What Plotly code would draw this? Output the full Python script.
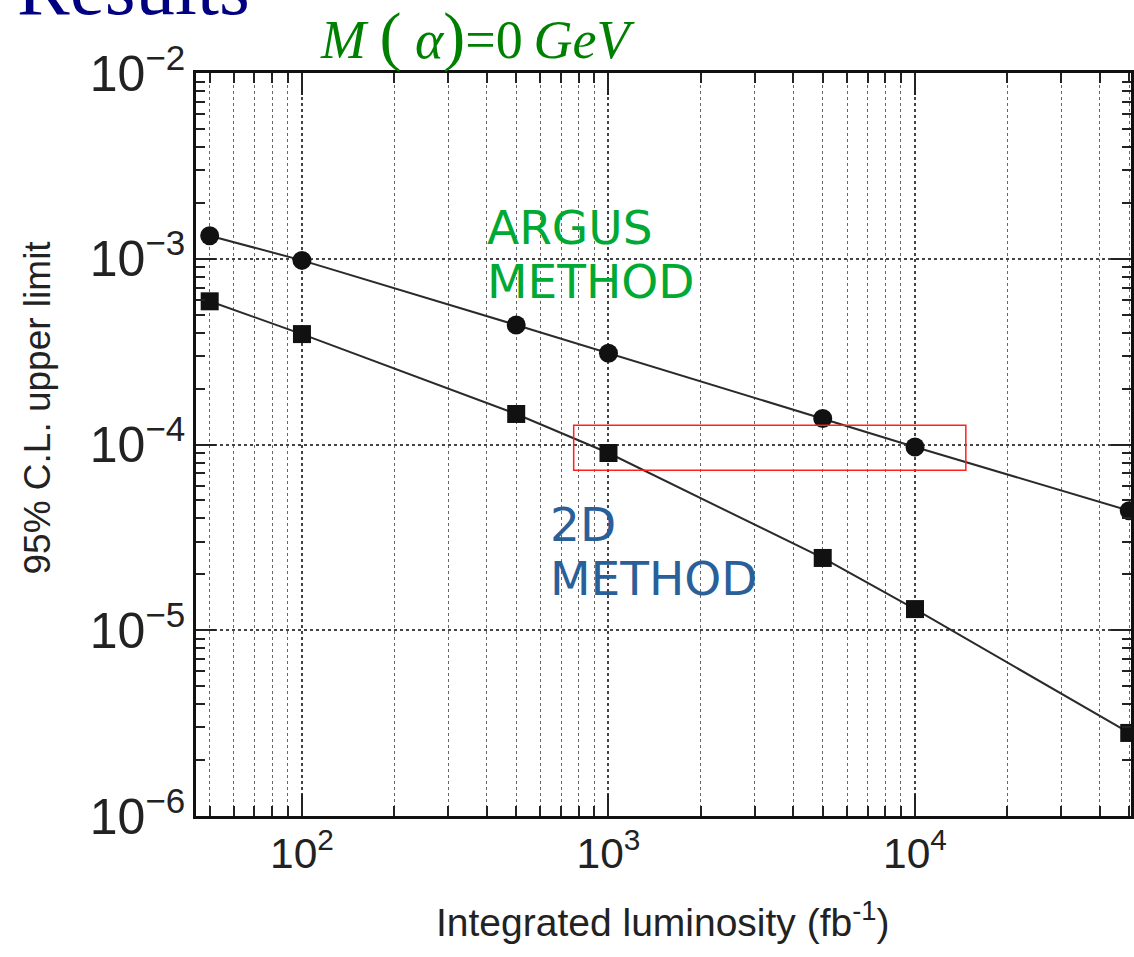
import plotly.graph_objects as go

# ---- data ----
luminosity = [50, 100, 500, 1000, 5000, 10000, 50000]
argus_limit = [1.33e-3, 9.8e-4, 4.4e-4, 3.1e-4, 1.38e-4, 9.7e-5, 4.4e-5]
twod_limit = [5.9e-4, 3.93e-4, 1.46e-4, 9.0e-5, 2.45e-5, 1.30e-5, 2.8e-6]
highlight_x = [770, 14650]
highlight_y = [7.26e-5, 1.27e-4]

# ---- layout geometry in pixels ----
W, H = 1134, 957
L, R, T, B = 196, 1134, 73, 816


def px(x):
    return (x - L) / (R - L)


def py(y):
    return (B - y) / (B - T)


fig = go.Figure()
line_style = dict(color="#2a2a2a", width=2)
fig.add_trace(go.Scatter(
    x=luminosity, y=argus_limit, mode="lines+markers",
    line=line_style,
    marker=dict(symbol="circle", size=19, color="#111111"),
    cliponaxis=True, showlegend=False))
fig.add_trace(go.Scatter(
    x=luminosity, y=twod_limit, mode="lines+markers",
    line=line_style,
    marker=dict(symbol="square", size=18, color="#111111"),
    cliponaxis=True, showlegend=False))

fig.add_shape(type="rect", xref="x", yref="y",
              x0=highlight_x[0], x1=highlight_x[1],
              y0=highlight_y[0], y1=highlight_y[1],
              line=dict(color="#ff2020", width=1.5))

tick_font = dict(family="Liberation Sans", color="#222222")

fig.update_xaxes(
    type="log", range=[1.6543, 4.7047],
    dtick=1, exponentformat="power", showexponent="all",
    ticks="inside", ticklen=22, tickwidth=2, tickcolor="#222",
    showline=True, linewidth=2.5, linecolor="#111", mirror="ticks",
    showgrid=True, gridcolor="#444", griddash="dot", gridwidth=1.5,
    tickfont=dict(size=34, **tick_font),
    minor=dict(dtick="D1", ticks="inside", ticklen=10, tickwidth=1.5,
               tickcolor="#222", showgrid=True, gridcolor="#666",
               griddash="dot", gridwidth=1.4),
    zeroline=False,
)
fig.update_yaxes(
    type="log", range=[-6, -2],
    dtick=1, exponentformat="power", showexponent="all",
    ticks="inside", ticklen=20, tickwidth=2, tickcolor="#222",
    showline=True, linewidth=2.5, linecolor="#111", mirror="ticks",
    showgrid=True, gridcolor="#444", griddash="dot", gridwidth=1.5,
    tickfont=dict(size=40, **tick_font),
    minor=dict(dtick="D1", ticks="inside", ticklen=9, tickwidth=1.5,
               tickcolor="#222", showgrid=False),
    zeroline=False,
)

ann = []
# method labels
green = "#00a933"
blue = "#2a6099"
lab_font = dict(family="DejaVu Sans", size=47)
ann.append(dict(text="ARGUS", x=px(486), y=py(227), xanchor="left", yanchor="middle",
                font=dict(color=green, **lab_font)))
ann.append(dict(text="METHOD", x=px(486), y=py(281), xanchor="left", yanchor="middle",
                font=dict(color=green, **lab_font)))
ann.append(dict(text="2D", x=px(549), y=py(524), xanchor="left", yanchor="middle",
                font=dict(color=blue, **lab_font)))
ann.append(dict(text="METHOD", x=px(549), y=py(578), xanchor="left", yanchor="middle",
                font=dict(color=blue, **lab_font)))
# axis titles
ann.append(dict(text="Integrated luminosity (fb<sup>-1</sup>)", x=px(664), y=py(920),
                xanchor="center", yanchor="middle",
                font=dict(family="Liberation Sans", size=39, color="#222")))
ann.append(dict(text="95% C.L. upper limit", x=px(36), y=py(408), textangle=-90,
                xanchor="center", yanchor="middle",
                font=dict(family="Liberation Sans", size=37, color="#222")))
# headings
ann.append(dict(
    text=("<i>M</i> <span style='font-size:66px'>(</span> <i>α</i>"
          "<span style='font-size:66px'>)</span>=0\u2009<i>GeV</i>"),
    x=px(318), y=py(36),
    xanchor="left", yanchor="middle",
    font=dict(family="Liberation Serif", size=54, color="#008000")))
ann.append(dict(text="Results", x=px(14), y=py(-12),
                xanchor="left", yanchor="middle",
                font=dict(family="Liberation Serif", size=79, color="#000080")))

for a in ann:
    a.update(xref="paper", yref="paper", showarrow=False)
fig.update_layout(annotations=ann)

fig.update_layout(
    width=W, height=H,
    margin=dict(l=L, r=W - R, t=T, b=H - B, pad=0),
    paper_bgcolor="white", plot_bgcolor="white",
    showlegend=False,
)

fig.write_html("out.html")
